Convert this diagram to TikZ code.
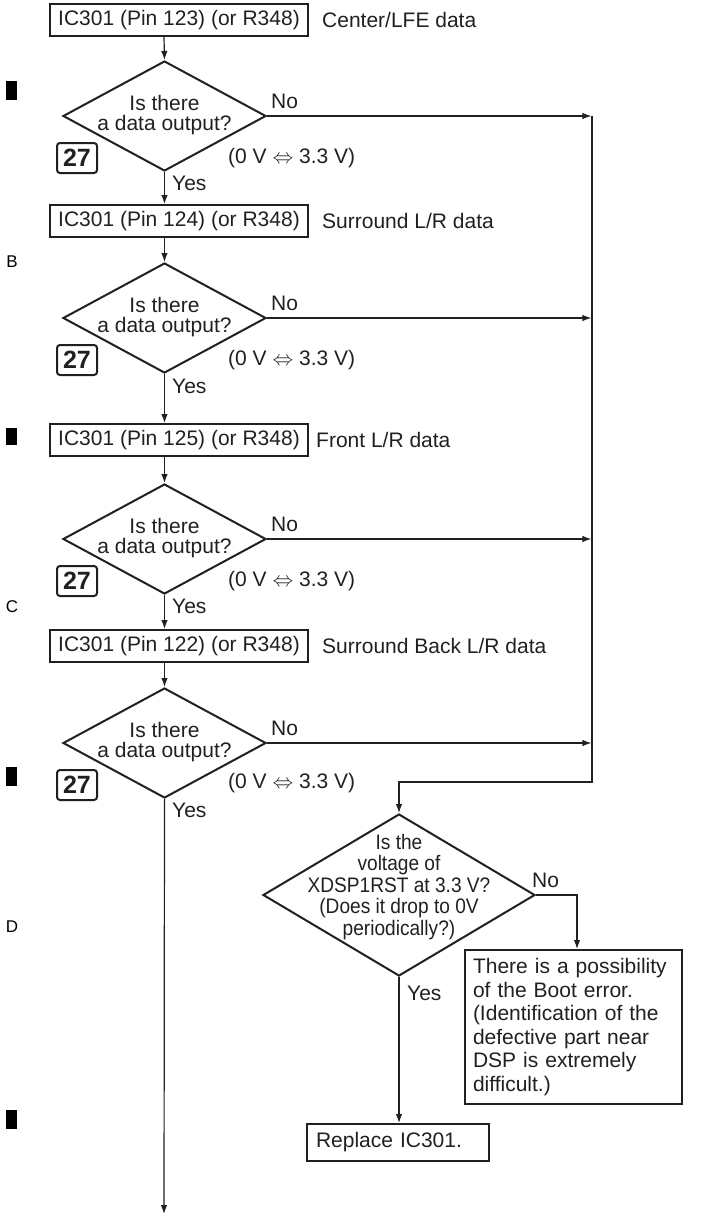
\documentclass[tikz,border=0pt]{standalone}
\usepackage{fontspec}
\setmainfont{Liberation Sans}
\newfontfamily\condfont[FakeStretch=0.91]{Liberation Sans}
\usetikzlibrary{shapes.geometric,arrows.meta,calc}
\definecolor{ink}{RGB}{35,31,32}
\begin{document}
\begin{tikzpicture}[x=1pt,y=-1pt,
  every node/.style={text=ink, inner sep=0pt, font=\fontsize{21}{21}\selectfont},
  box/.style={draw=ink, line width=2pt, minimum width=258pt, minimum height=32pt},
  dia/.style={draw=ink, diamond, line width=2pt, minimum width=203pt, minimum height=110pt, aspect=1.85},
  dtext/.style={align=center, font=\fontsize{21}{20.5}\selectfont},
  num/.style={draw=ink, line width=2pt, rounded corners=3pt, minimum width=40pt, minimum height=30pt, font=\fontsize{25}{25}\selectfont\bfseries},
  lbl/.style={anchor=west},
  side/.style={anchor=center, font=\fontsize{17}{17}\selectfont, text=black},
  conn/.style={draw=ink, line width=1.2pt},
  arr/.style={conn, -{Latex[length=9pt,width=6.5pt]}}
]
\useasboundingbox (0,0) rectangle (719,1215);

% margin marks
\fill[black] (6,81) rectangle (17,100);
\fill[black] (6,428) rectangle (17,445);
\fill[black] (6,767) rectangle (17,786);
\fill[black] (6,1110) rectangle (17,1129);
\node[side] (lB) at (12,262) {B};
\node[side] (lC) at (12,607) {C};
\node[side] (lD) at (12,927) {D};

% step 1
\node[box] (b1) at (179,20) {IC301 (Pin 123) (or R348)};
\node[lbl] (s1) at (322,20) {Center/LFE data};
\node[dia] (d1) at (164.5,116) {};
\node[dtext] (t1) at (164.5,115) {Is there\\a data output?};
\node[num] (n1) at (77,158) {27};
\node[lbl] (v1) at (228,158) {(0 V \(\Leftrightarrow\) 3.3 V)};
\node[lbl] (no1) at (271,101) {No};
\node[lbl] (y1) at (172,183) {Yes};

% step 2
\node[box] (b2) at (179,221) {IC301 (Pin 124) (or R348)};
\node[lbl] (s2) at (322,221) {Surround L/R data};
\node[dia] (d2) at (164.5,318) {};
\node[dtext] (t2) at (164.5,317) {Is there\\a data output?};
\node[num] (n2) at (77,360) {27};
\node[lbl] (v2) at (228,360) {(0 V \(\Leftrightarrow\) 3.3 V)};
\node[lbl] (no2) at (271,303) {No};
\node[lbl] (y2) at (172,386) {Yes};

% step 3
\node[box] (b3) at (179,440) {IC301 (Pin 125) (or R348)};
\node[lbl] (s3) at (316,440) {Front L/R data};
\node[dia] (d3) at (164.5,539) {};
\node[dtext] (t3) at (164.5,538) {Is there\\a data output?};
\node[num] (n3) at (77,581) {27};
\node[lbl] (v3) at (228,581) {(0 V \(\Leftrightarrow\) 3.3 V)};
\node[lbl] (no3) at (271,524) {No};
\node[lbl] (y3) at (172,606) {Yes};

% step 4
\node[box] (b4) at (179,646) {IC301 (Pin 122) (or R348)};
\node[lbl] (s4) at (322,646) {Surround Back L/R data};
\node[dia] (d4) at (164.5,743) {};
\node[dtext] (t4) at (164.5,742) {Is there\\a data output?};
\node[num] (n4) at (77,785) {27};
\node[lbl] (v4) at (228,783) {(0 V \(\Leftrightarrow\) 3.3 V)};
\node[lbl] (no4) at (271,728) {No};
\node[lbl] (y4) at (172,810) {Yes};

% reset check
\node[dia, minimum width=272pt, minimum height=162pt, aspect=1.68] (d5) at (399,895) {};
\node[align=center, font=\fontsize{21}{21.5}\condfont] (t5) at (399,887) {Is the\\voltage of\\XDSP1RST at 3.3 V?\\(Does it drop to 0V\\periodically?)};
\node[lbl] (no5) at (532,880) {No};
\node[lbl] (y5) at (407,993) {Yes};
\node[draw=ink, line width=2pt, text width=201pt, inner xsep=8pt, minimum height=154pt, align=left,
      font=\fontsize{21}{23.5}\selectfont] (b5) at (573.5,1027)
  {There is a possibility\\of the Boot error.\\(Identification of the\\defective part near\\DSP is extremely\\difficult.)};
\node[draw=ink, line width=2pt, text width=164pt, inner xsep=9pt, minimum height=37pt, align=left] (rep) at (398,1142.5) {Replace IC301.};

% coordinates
\coordinate (vtop) at (592,116);
\coordinate (vbot) at (592,782);
\coordinate (nturn) at (577,895);
\coordinate (endpt) at (164,1214);

% main column connectors
\draw[arr] (b1.south -| 164,0) -- (d1.north);
\draw[arr] (d1.south) -- (b2.north -| d1.south);
\draw[arr] (b2.south -| d2.north) -- (d2.north);
\draw[arr] (d2.south) -- (b3.north -| d2.south);
\draw[arr] (b3.south -| d3.north) -- (d3.north);
\draw[arr] (d3.south) -- (b4.north -| d3.south);
\draw[arr] (b4.south -| d4.north) -- (d4.north);
\draw[arr] (d4.south) -- (endpt);

% No branches
\draw[arr] (d1.east) -- ($(d1.east -| vtop)+(-0.6,0)$);
\draw[arr] (d2.east) -- ($(d2.east -| vtop)+(-0.6,0)$);
\draw[arr] (d3.east) -- ($(d3.east -| vtop)+(-0.6,0)$);
\draw[arr] (d4.east) -- ($(d4.east -| vtop)+(-0.6,0)$);
\draw[arr] (vtop) -- (vbot) -| (d5.north);

% reset decision
\draw[arr] (d5.east) -- (nturn) -- (nturn |- b5.north);
\draw[arr] (d5.south) -- (d5.south |- rep.north);
\end{tikzpicture}
\end{document}
